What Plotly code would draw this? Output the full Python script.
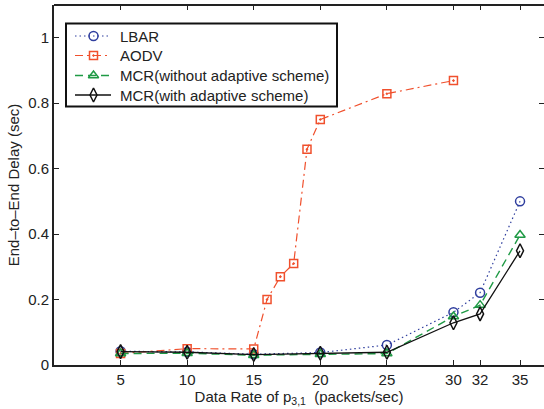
import plotly.graph_objects as go

# Data rate of p_{3,1} (packets/sec)
rates = [5, 10, 15, 20, 25, 30, 32, 35]
aodv_rates = [5, 10, 15, 16, 17, 18, 19, 20, 25, 30]

# End-to-end delay (sec)
lbar_delay = [0.042, 0.040, 0.033, 0.038, 0.061, 0.161, 0.221, 0.500]
aodv_delay = [0.035, 0.050, 0.049, 0.200, 0.270, 0.310, 0.659, 0.750, 0.829, 0.869]
mcr_no_adapt_delay = [0.035, 0.036, 0.030, 0.033, 0.035, 0.148, 0.183, 0.397]
mcr_adapt_delay = [0.041, 0.039, 0.032, 0.036, 0.039, 0.129, 0.156, 0.349]

series_names = ["LBAR", "AODV", "MCR(without adaptive scheme)", "MCR(with adaptive scheme)"]

x_ticks = [5, 10, 15, 20, 25, 30, 32, 35]
y_ticks = [0, 0.2, 0.4, 0.6, 0.8, 1.0]
y_tick_text = ["0", "0.2", "0.4", "0.6", "0.8", "1"]

FONT = "Liberation Sans, Arial, sans-serif"
AX = "#222222"
FS = 15

# plot area in pixels
W, H = 544, 409
ML, MR, MT, MB = 54, 0, 5, 44
PW, PH = W - ML - MR, H - MT - MB

styles = [
    dict(color="#2f3e9e", dash="1.5px,3px", width=1.2, symbol="circle-open", size=9),
    dict(color="#f0502d", dash="8px,4px,2px,4px", width=1.2, symbol="square-open-dot", size=8),
    dict(color="#1f9a45", dash="8px,5px", width=1.4, symbol="triangle-up-open", size=9),
    dict(color="#111111", dash="solid", width=1.3, symbol="diamond-tall-open", size=10),
]
series = [
    (rates, lbar_delay),
    (aodv_rates, aodv_delay),
    (rates, mcr_no_adapt_delay),
    (rates, mcr_adapt_delay),
]

fig = go.Figure()
for name, (xs, ys), st in zip(series_names, series, styles):
    fig.add_trace(go.Scatter(
        x=xs, y=ys, name=name, mode="lines+markers",
        line=dict(color=st["color"], width=st["width"], dash=st["dash"]),
        marker=dict(symbol=st["symbol"], size=st["size"], color=st["color"],
                    line=dict(width=1.5, color=st["color"])),
    ))

# helper trace so the mirrored tick axes (top / right) get drawn
fig.add_trace(go.Scatter(x=[None], y=[None], xaxis="x2", yaxis="y2",
                         showlegend=False, hoverinfo="skip"))

# legend key, drawn on a pixel-scaled overlay axis pair (x3/y3)
box_x0, box_x1, box_y0, box_y1 = 12, 283, 18.5, 101.5
row_y = [31, 50.5, 70.5, 90]
key_x0, key_xm, key_x1, text_x = 21, 39.5, 57, 63.5
annotations = []
for name, st, ry in zip(series_names, styles, row_y):
    fig.add_trace(go.Scatter(
        x=[key_x0, key_x1], y=[ry, ry], xaxis="x3", yaxis="y3", mode="lines",
        line=dict(color=st["color"], width=st["width"], dash=st["dash"]),
        showlegend=False, hoverinfo="skip"))
    fig.add_trace(go.Scatter(
        x=[key_xm], y=[ry], xaxis="x3", yaxis="y3", mode="markers",
        marker=dict(symbol=st["symbol"], size=st["size"], color=st["color"],
                    line=dict(width=1.5, color=st["color"])),
        showlegend=False, hoverinfo="skip"))
    annotations.append(dict(
        x=text_x, y=ry, xref="x3", yref="y3", text=name, showarrow=False,
        xanchor="left", yanchor="middle",
        font=dict(family=FONT, size=FS, color=AX)))

tick_common = dict(ticks="inside", ticklen=5, tickwidth=1, tickcolor=AX,
                   showgrid=False, zeroline=False)

fig.update_layout(
    width=W, height=H,
    margin=dict(l=ML, r=MR, t=MT, b=MB),
    paper_bgcolor="white", plot_bgcolor="white",
    font=dict(family=FONT, size=FS, color=AX),
    showlegend=False,
    xaxis=dict(
        range=[0, 36.8], tickmode="array", tickvals=x_ticks,
        showline=True, linecolor=AX, linewidth=2, mirror=False,
        tickfont=dict(family=FONT, size=FS, color=AX),
        title=dict(text="Data Rate of p<sub>3,1</sub>  (packets/sec)",
                   font=dict(family=FONT, size=FS, color=AX), standoff=3),
        **tick_common,
    ),
    yaxis=dict(
        range=[0, 1.1], tickmode="array", tickvals=y_ticks, ticktext=y_tick_text,
        showline=True, linecolor=AX, linewidth=2, mirror=False,
        tickfont=dict(family=FONT, size=FS, color=AX),
        title=dict(text="End\u2013to\u2013End Delay (sec)",
                   font=dict(family=FONT, size=FS, color=AX), standoff=5),
        **tick_common,
    ),
    xaxis2=dict(overlaying="x", side="top", matches="x", tickmode="array",
                tickvals=x_ticks, showticklabels=False, showline=False, **tick_common),
    yaxis2=dict(overlaying="y", side="right", matches="y", tickmode="array",
                tickvals=y_ticks, showticklabels=False, showline=False, **tick_common),
    xaxis3=dict(overlaying="x", range=[0, PW], visible=False, fixedrange=True),
    yaxis3=dict(overlaying="y", range=[PH, 0], visible=False, fixedrange=True),
    shapes=[
        dict(type="line", xref="paper", yref="paper", x0=0, x1=1, y0=1, y1=1,
             line=dict(color=AX, width=2)),
        dict(type="rect", xref="x3", yref="y3", x0=box_x0, x1=box_x1,
             y0=box_y0, y1=box_y1, line=dict(color="#111111", width=2),
             fillcolor="white", layer="below"),
    ],
    annotations=annotations,
)

fig.write_html("out.html")
